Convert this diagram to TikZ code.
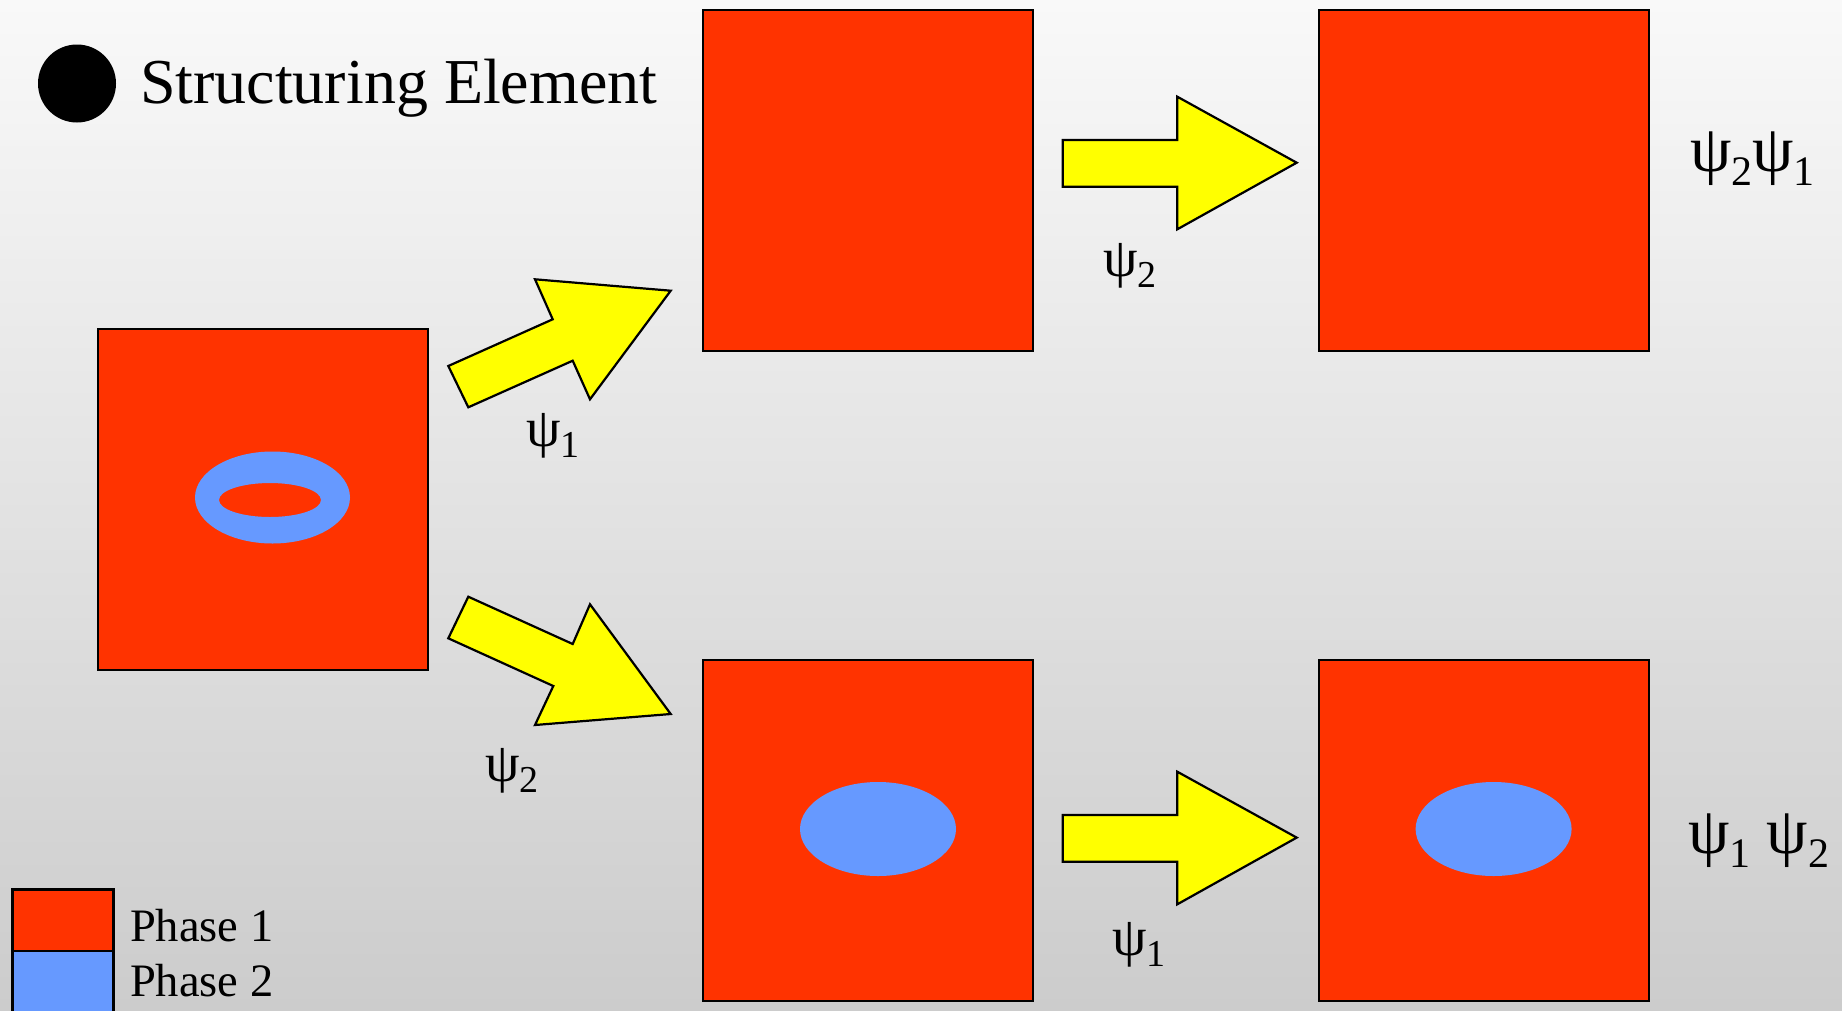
\documentclass[tikz,border=0pt]{standalone}
\usepackage{fontspec}
\setmainfont{Liberation Serif}
\definecolor{phaseone}{HTML}{FF3300}
\definecolor{phasetwo}{HTML}{6699FF}
\definecolor{arrowyellow}{HTML}{FFFF00}
\definecolor{bgtop}{HTML}{F9F9F9}
\definecolor{bgbot}{HTML}{CCCCCC}
\newcommand{\smallpsi}[1]{\fontsize{55}{60}\selectfont ψ\raisebox{-11pt}{\fontsize{38}{40}\selectfont #1}}
\newcommand{\bigpsi}[1]{\fontsize{66}{70}\selectfont ψ\raisebox{-14pt}{\fontsize{42}{44}\selectfont #1}}
\begin{document}
\begin{tikzpicture}[x=1pt,y=-1pt,
  sq/.style={draw=black,fill=phaseone,line width=2pt,minimum width=330pt,minimum height=341pt,anchor=north west,inner sep=0pt,outer sep=0pt},
  blockarrow/.style={fill=arrowyellow,draw=black,line width=2.2pt,line join=miter},
  lbl/.style={anchor=base west,inner sep=0pt,outer sep=0pt},
  legendbox/.style={draw=black,line width=2.5pt}]
\useasboundingbox (0,0) rectangle (1842,1010);
\clip (0,0) rectangle (1842,1010);
\shade[top color=bgtop,bottom color=bgbot] (0,0) rectangle (1842,1010);
% structuring element
\fill[black] (77,83.5) circle[radius=39pt];
\node[lbl] (se) at (140,103) {\fontsize{64}{70}\selectfont Structuring Element};
% squares
\node[sq] (L) at (97.5,329) {};
\node[sq] (TM) at (702.5,9.5) {};
\node[sq] (TR) at (1319,9.5) {};
\node[sq] (BM) at (702.5,660) {};
\node[sq] (BR) at (1319,660) {};
% phase 2 regions
\fill[phasetwo,even odd rule] (272.5,497.5) ellipse[x radius=77.5pt,y radius=46pt]
  (270,500) ellipse[x radius=51pt,y radius=17pt];
\fill[phasetwo] (878,829) ellipse[x radius=78pt,y radius=47pt];
\fill[phasetwo] (1493.6,829) ellipse[x radius=78pt,y radius=47pt];
% arrows
\draw[blockarrow] (448.3,366) -- (552.7,319.3) -- (535,279.3) -- (670.7,290.7) -- (590,399.3) -- (572.7,360.7) -- (468.3,407.3) -- cycle;
\draw[blockarrow] (468.3,596.7) -- (572.7,644) -- (590,604.3) -- (670.7,714) -- (535,725) -- (553.3,686) -- (448.3,638.3) -- cycle;
\draw[blockarrow] (1062.7,140) -- (1177.3,140) -- (1177.3,96.7) -- (1296.7,162.7) -- (1177.3,229.3) -- (1177.3,186.7) -- (1062.7,186.7) -- cycle;
\draw[blockarrow] (1062.7,815) -- (1177.3,815) -- (1177.3,771.7) -- (1296.7,837.6) -- (1177.3,904.3) -- (1177.3,861.7) -- (1062.7,861.7) -- cycle;
% labels
\node[lbl] (l1) at (526,446) {\smallpsi{1}};
\node[lbl] (l2) at (485,781) {\smallpsi{2}};
\node[lbl] (l3) at (1103,276) {\smallpsi{2}};
\node[lbl] (l4) at (1112,955) {\smallpsi{1}};
\node[lbl] (r1) at (1690,171) {\bigpsi{2}\bigpsi{1}};
\node[lbl] (r2) at (1688,853) {\bigpsi{1} \bigpsi{2}};
% legend
\draw[legendbox,fill=phasetwo] (12.7,951) rectangle (113.5,1016);
\draw[legendbox,fill=phaseone] (12.7,889.3) rectangle (113.5,951);
\node[lbl] (p1) at (130,941.7) {\fontsize{46.5}{50}\selectfont Phase 1};
\node[lbl] (p2) at (130,996.7) {\fontsize{46.5}{50}\selectfont Phase 2};
\end{tikzpicture}
\end{document}
